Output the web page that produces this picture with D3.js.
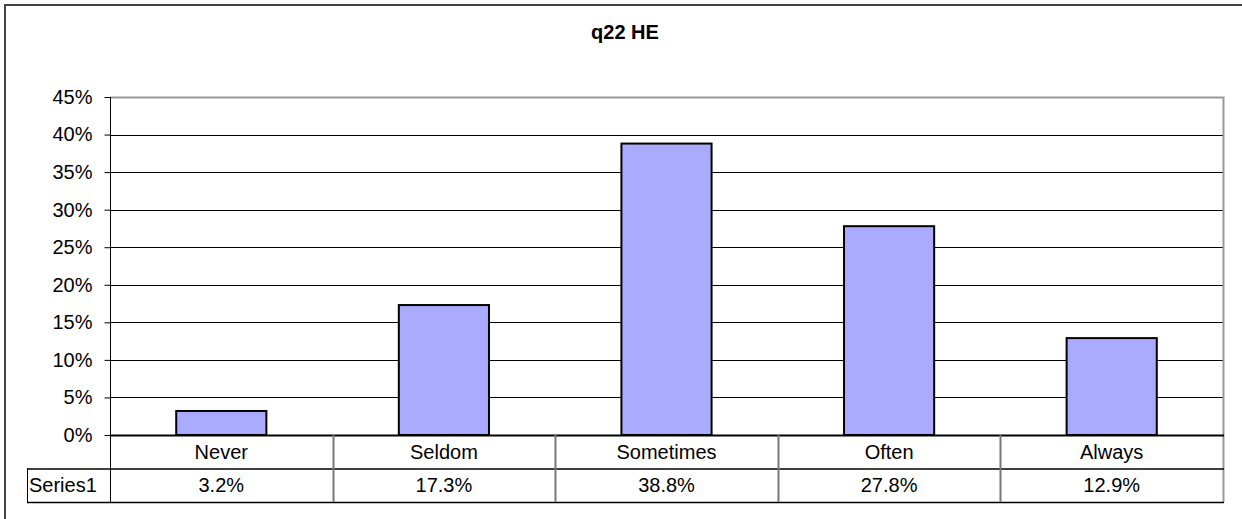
<!DOCTYPE html>
<meta charset="utf-8">
<style>
body { margin: 0; background: #fff; overflow: hidden; }
text { font-family: "Liberation Sans", Arial, sans-serif; fill: #000; }
.grid line { stroke: #000; stroke-width: 1; }
</style>
<svg width="1242" height="519"></svg>
<script src="https://d3js.org/d3.v7.min.js"></script>
<script>

var categories = ["Never", "Seldom", "Sometimes", "Often", "Always"];
var values = [3.2, 17.3, 38.8, 27.8, 12.9];
var valueLabels = ["3.2%", "17.3%", "38.8%", "27.8%", "12.9%"];
var tickValues = [0, 5, 10, 15, 20, 25, 30, 35, 40, 45];
var seriesName = "Series1";
var title = "q22 HE";

var svg = d3.select("svg");

var plotLeft = 110, plotRight = 1223, plotTop = 97, plotBottom = 435;
var rowH = 33.5;
var fs = 20;

// outer frame (right and bottom edges fall outside the picture)
svg.append("rect")
    .attr("x", 5).attr("y", 5)
    .attr("width", 1260).attr("height", 540)
    .attr("fill", "#fff")
    .attr("stroke", "#444")
    .attr("stroke-width", 2);

svg.append("text")
    .attr("x", 625).attr("y", 39)
    .attr("text-anchor", "middle")
    .attr("font-weight", "bold")
    .attr("font-size", 20)
    .text(title);

var x = d3.scaleBand()
    .domain(categories)
    .range([plotLeft, plotRight]);

var y = d3.scaleLinear()
    .domain([0, 45])
    .range([plotBottom, plotTop]);

// gridlines
svg.append("g")
    .attr("class", "grid")
  .selectAll("line")
    .data(tickValues.filter(function(d) { return d > 0 && d < 45; }))
  .enter().append("line")
    .attr("x1", plotLeft).attr("x2", plotRight)
    .attr("y1", function(d) { return Math.round(y(d)) + 0.5; })
    .attr("y2", function(d) { return Math.round(y(d)) + 0.5; });

// plot area border (top/right gray)
svg.append("path")
    .attr("d", "M" + plotLeft + "," + (plotTop + 0.5) + "H" + (plotRight + 0.5) + "V" + (plotBottom + 2 * rowH))
    .attr("fill", "none")
    .attr("stroke", "#999")
    .attr("stroke-width", 2);

// bars
var bw = x.bandwidth() * 0.405;
svg.append("g")
  .selectAll("rect")
    .data(values)
  .enter().append("rect")
    .attr("x", function(d, i) { return x(categories[i]) + (x.bandwidth() - bw) / 2; })
    .attr("y", function(d) { return y(d); })
    .attr("width", bw)
    .attr("height", function(d) { return y(0) - y(d); })
    .attr("fill", "#aaaaff")
    .attr("stroke", "#000")
    .attr("stroke-width", 2);

// y axis
var yAxis = svg.append("g")
    .attr("transform", "translate(" + (plotLeft + 0.5) + ",0)")
    .call(d3.axisLeft(y)
        .tickValues(tickValues)
        .tickSize(6)
        .tickPadding(12)
        .tickFormat(function(d) { return d + "%"; }));
yAxis.select(".domain").attr("stroke", "#000").attr("d", "M0," + plotTop + "V" + (plotBottom + 2 * rowH));
yAxis.selectAll(".tick line").attr("stroke", "#000");
yAxis.selectAll(".tick text")
    .attr("font-size", fs)
    .attr("font-family", "Liberation Sans, Arial, sans-serif")
    .attr("fill", "#000");

// data table
var t = svg.append("g");
var rows = [plotBottom, plotBottom + rowH, plotBottom + 2 * rowH];
t.selectAll("line.h")
    .data(rows)
  .enter().append("line")
    .attr("x1", function(d, i) { return i === 0 ? plotLeft : 27; })
    .attr("x2", plotRight + 1)
    .attr("y1", function(d) { return d + 0.5; })
    .attr("y2", function(d) { return d + 0.5; })
    .attr("stroke", "#000")
    .attr("stroke-width", function(d, i) { return i === 0 ? 2 : 1.5; });

t.selectAll("line.v")
    .data(categories.slice(1))
  .enter().append("line")
    .attr("x1", function(d) { return Math.round(x(d)) + 0.5; })
    .attr("x2", function(d) { return Math.round(x(d)) + 0.5; })
    .attr("y1", plotBottom)
    .attr("y2", plotBottom + 2 * rowH)
    .attr("stroke", "#777")
    .attr("stroke-width", 2);

t.append("line")
    .attr("x1", 27.5).attr("x2", 27.5)
    .attr("y1", plotBottom + rowH).attr("y2", plotBottom + 2 * rowH)
    .attr("stroke", "#000").attr("stroke-width", 1);

t.selectAll("text.cat")
    .data(categories)
  .enter().append("text")
    .attr("x", function(d) { return x(d) + x.bandwidth() / 2; })
    .attr("y", plotBottom + rowH / 2 + 7)
    .attr("text-anchor", "middle")
    .attr("font-size", fs)
    .text(function(d) { return d; });

t.selectAll("text.val")
    .data(valueLabels)
  .enter().append("text")
    .attr("x", function(d, i) { return x(categories[i]) + x.bandwidth() / 2; })
    .attr("y", plotBottom + rowH * 1.5 + 7)
    .attr("text-anchor", "middle")
    .attr("font-size", fs)
    .text(function(d) { return d; });

t.append("text")
    .attr("x", 29)
    .attr("y", plotBottom + rowH * 1.5 + 7)
    .attr("font-size", fs)
    .text(seriesName);

</script>
